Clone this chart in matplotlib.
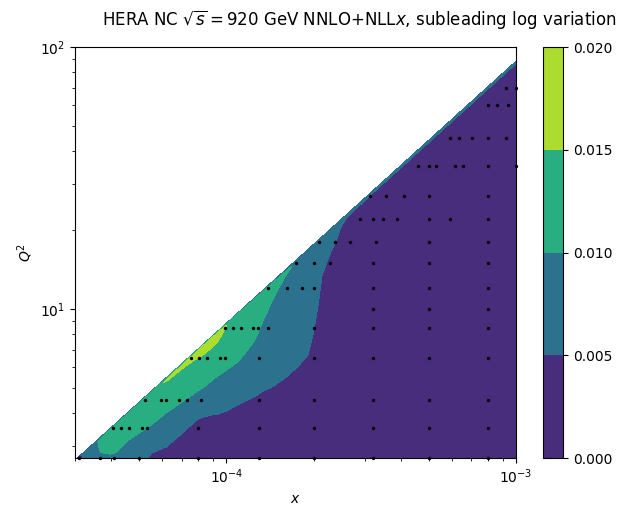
import numpy as np
import matplotlib
matplotlib.use("Agg")
import matplotlib.pyplot as plt

# ---- contour field: columns of x, rows given as fraction of the kinematic limit Q^2_max = K*x
x_nodes = [3.0e-5, 3.4e-5, 3.7e-5, 4.1e-5, 4.6e-5, 5.5e-5, 6.2e-5, 7.05e-5, 7.9e-5, 8.4e-5,
           9.3e-5, 1.0e-4, 1.1e-4, 1.25e-4, 1.35e-4, 1.45e-4, 1.6e-4, 1.75e-4, 1.9e-4, 2.0e-4,
           2.07e-4, 2.14e-4, 2.25e-4, 2.4e-4, 2.6e-4, 3.2e-4, 5.0e-4, 1.0e-3]
ratio_nodes = [1.0, 0.98, 0.94, 0.88, 0.80, 0.70, 0.60, 0.50, 0.40, 0.30, 0.15, 0.025]
kin_limit = 88200.0

# one list per x node, values from ratio 1.0 down to 0.025
z_columns = [
    [0.004, 0.003, 0.003, 0.003, 0.003, 0.003, 0.003, 0.003, 0.003, 0.003, 0.003, 0.003],
    [0.007, 0.007, 0.0072, 0.0072, 0.0072, 0.007, 0.007, 0.007, 0.007, 0.007, 0.007, 0.007],
    [0.008, 0.0115, 0.011, 0.0103, 0.0085, 0.0075, 0.007, 0.007, 0.007, 0.007, 0.007, 0.007],
    [0.008, 0.012, 0.012, 0.012, 0.0108, 0.0075, 0.0072, 0.007, 0.007, 0.007, 0.007, 0.007],
    [0.008, 0.0125, 0.0125, 0.012, 0.0106, 0.0078, 0.0062, 0.0048, 0.004, 0.003, 0.003, 0.003],
    [0.008, 0.013, 0.013, 0.0125, 0.0113, 0.0090, 0.0055, 0.003, 0.002, 0.0015, 0.001, 0.001],
    [0.009, 0.0154, 0.0141, 0.013, 0.0115, 0.0092, 0.006, 0.0042, 0.0025, 0.0015, 0.001, 0.001],
    [0.011, 0.0160, 0.0145, 0.0133, 0.0118, 0.0097, 0.0068, 0.0038, 0.002, 0.0015, 0.001, 0.001],
    [0.011, 0.0170, 0.0153, 0.0139, 0.0122, 0.0102, 0.0070, 0.0035, 0.002, 0.0015, 0.001, 0.001],
    [0.011, 0.0176, 0.0159, 0.0142, 0.0125, 0.0105, 0.0075, 0.0042, 0.002, 0.0015, 0.001, 0.001],
    [0.011, 0.0176, 0.0159, 0.0142, 0.0125, 0.0107, 0.0078, 0.0055, 0.0025, 0.0015, 0.001, 0.001],
    [0.009, 0.0149, 0.0141, 0.0132, 0.012, 0.0106, 0.009, 0.0062, 0.003, 0.0015, 0.001, 0.001],
    [0.008, 0.0135, 0.0132, 0.0126, 0.0117, 0.0106, 0.0094, 0.0068, 0.0035, 0.002, 0.001, 0.001],
    [0.008, 0.0125, 0.0122, 0.0117, 0.011, 0.0102, 0.0088, 0.007, 0.0045, 0.002, 0.001, 0.001],
    [0.008, 0.0118, 0.0114, 0.0108, 0.0102, 0.0093, 0.0082, 0.0068, 0.0048, 0.002, 0.001, 0.001],
    [0.008, 0.0112, 0.0108, 0.0102, 0.0096, 0.0088, 0.0078, 0.0066, 0.0051, 0.0025, 0.001, 0.001],
    [0.008, 0.0106, 0.0099, 0.0094, 0.0089, 0.0082, 0.0074, 0.0064, 0.0053, 0.0028, 0.0012, 0.001],
    [0.0075, 0.0095, 0.0092, 0.0088, 0.0083, 0.0077, 0.007, 0.0062, 0.0053, 0.003, 0.0012, 0.001],
    [0.0075, 0.0088, 0.0086, 0.0082, 0.0077, 0.0071, 0.0065, 0.0058, 0.0051, 0.003, 0.0012, 0.001],
    [0.0075, 0.0082, 0.008, 0.0077, 0.0072, 0.0066, 0.0059, 0.0053, 0.0045, 0.0028, 0.0012, 0.001],
    [0.0075, 0.0078, 0.0076, 0.0072, 0.0066, 0.006, 0.0053, 0.0045, 0.0035, 0.0022, 0.0011, 0.001],
    [0.0075, 0.0072, 0.0068, 0.0063, 0.0057, 0.0049, 0.0042, 0.0036, 0.0028, 0.0018, 0.001, 0.001],
    [0.0075, 0.0068, 0.0062, 0.0056, 0.0051, 0.0042, 0.0036, 0.0031, 0.0025, 0.0016, 0.001, 0.001],
    [0.0075, 0.0064, 0.0057, 0.0051, 0.0043, 0.0037, 0.0032, 0.0028, 0.0022, 0.0015, 0.001, 0.001],
    [0.0075, 0.0052, 0.0042, 0.0037, 0.0033, 0.0029, 0.0026, 0.0023, 0.0019, 0.0013, 0.001, 0.001],
    [0.0075, 0.0049, 0.0038, 0.0033, 0.003, 0.0027, 0.0024, 0.0021, 0.0018, 0.0013, 0.001, 0.0008],
    [0.0075, 0.0049, 0.0036, 0.0031, 0.0028, 0.0025, 0.0022, 0.002, 0.0017, 0.0012, 0.0009, 0.0007],
    [0.0075, 0.0049, 0.0035, 0.003, 0.0027, 0.0024, 0.0021, 0.0019, 0.0016, 0.0012, 0.0008, 0.0006],
]

levels = [0.0, 0.005, 0.010, 0.015, 0.020]

# ---- data points (x values per Q^2 row)
q2_rows = [2.7, 3.5, 4.5, 6.5, 8.5, 10, 12, 15, 18, 22, 27, 35, 45, 60, 70]
x_by_row = [
    [3.09e-5, 3.67e-5, 4.09e-5, 5.0e-5, 8.0e-5, 1.3e-4, 2.0e-4, 3.2e-4, 5.0e-4, 8.0e-4],
    [4.07e-5, 4.34e-5, 4.61e-5, 5.12e-5, 5.32e-5, 8.0e-5, 1.3e-4, 2.0e-4, 3.2e-4, 5.0e-4, 8.0e-4],
    [5.24e-5, 5.93e-5, 6.21e-5, 6.84e-5, 7.33e-5, 8.2e-5, 1.3e-4, 2.0e-4, 3.2e-4, 5.0e-4, 8.0e-4],
    [7.55e-5, 8.04e-5, 8.57e-5, 9.53e-5, 9.89e-5, 1.3e-4, 2.0e-4, 3.2e-4, 5.0e-4, 8.0e-4],
    [9.87e-5, 1.05e-4, 1.12e-4, 1.24e-4, 1.29e-4, 1.39e-4, 2.0e-4, 3.2e-4, 5.0e-4, 8.0e-4],
    [3.2e-4, 5.0e-4, 8.0e-4],
    [1.39e-4, 1.62e-4, 1.82e-4, 2.0e-4, 3.2e-4, 5.0e-4, 8.0e-4],
    [1.74e-4, 2.0e-4, 2.28e-4, 3.2e-4, 5.0e-4, 8.0e-4],
    [2.09e-4, 2.37e-4, 2.68e-4, 3.29e-4, 5.0e-4, 8.0e-4],
    [2.9e-4, 3.2e-4, 3.46e-4, 3.88e-4, 5.0e-4, 5.92e-4, 8.0e-4],
    [3.14e-4, 3.55e-4, 4.1e-4, 5.0e-4, 8.0e-4],
    [4.6e-4, 5.0e-4, 5.31e-4, 6.16e-4, 6.58e-4, 8.0e-4, 1.0e-3],
    [5.9e-4, 6.35e-4, 7.02e-4, 8.0e-4, 9.22e-4],
    [8.0e-4, 8.63e-4, 9.41e-4],
    [9.22e-4, 1.0e-3],
]

title = r"HERA NC $\sqrt{s} = 920$ GeV NNLO+NLL$x$, subleading log variation"

# ---- build grid
xn = np.array(x_nodes)
rn = np.array(ratio_nodes)
X = np.tile(xn, (len(rn), 1))
Q2 = rn[:, None] * kin_limit * xn[None, :]
Z = np.array(z_columns).T

pts_x = [x for row in x_by_row for x in row]
pts_q2 = [q for q, row in zip(q2_rows, x_by_row) for _ in row]

W, H = 619, 505
fig = plt.figure(figsize=(W / 100, H / 100), dpi=100)
ax = fig.add_axes([75 / W, 1 - 458 / H, (516 - 75) / W, (458 - 47) / H])
cax = fig.add_axes([543 / W, 1 - 458 / H, 20 / W, (458 - 47) / H])

ax.set_xscale("log")
ax.set_yscale("log")
cs = ax.contourf(X, Q2, Z, levels=levels, cmap="viridis")
ax.scatter(pts_x, pts_q2, s=6, c="k", linewidths=0, zorder=3, clip_on=False)
ax.set_xlim(3e-5, 1e-3)
ax.set_ylim(2.7, 100)
ax.set_xlabel("$x$")
ax.set_ylabel("$Q^2$")
ax.set_title(title, x=(359 - 75) / (516 - 75), pad=15.5, fontsize=12)

fig.colorbar(cs, cax=cax)

fig.savefig("out.png", dpi=100)
